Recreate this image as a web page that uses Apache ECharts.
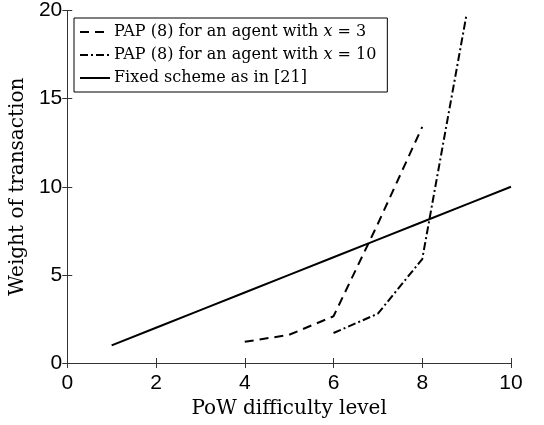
<!DOCTYPE html>
<html>
<head>
<meta charset="utf-8">
<script src="https://cdn.jsdelivr.net/npm/echarts@6/dist/echarts.min.js"></script>
<style>
  html, body { margin: 0; padding: 0; background: #fff; }
  #chart_container { width: 544px; height: 425px; }
</style>
</head>
<body>
<div id="chart_container"></div>
<script>
// data
const papX3_x = [4, 5, 6, 7, 8]
const papX3_y = [1.2, 1.6, 2.65, 7.9, 13.4]

const papX10_x = [6, 7, 8, 9]
const papX10_y = [1.7, 2.8, 5.9, 19.8]

const fixed_x = [1, 2, 3, 4, 5, 6, 7, 8, 9, 10]
const fixed_y = [1, 2, 3, 4, 5, 6, 7, 8, 9, 10]

const names = ["x3", "x10", "fixed"]
const labels = {
    x3: "PAP (8) for an agent with {i|x} = 3",
    x10: "PAP (8) for an agent with {i|x} = 10",
    fixed: "Fixed scheme as in [21]"
}

function pairs(xs, ys){
    return xs.map((x, i) => [x, ys[i]])
}

const axisColor = "#333333"
const serif = "'DejaVu Serif', 'Liberation Serif', serif"
const sans = "'Liberation Sans', Arial, sans-serif"

let chart = echarts.init(document.getElementById('chart_container'))

let option = {
    animation: false,
    backgroundColor: "#fff",
    grid: { left: 67, right: 33, top: 10, bottom: 62, containLabel: false },
    legend: {
        orient: "vertical",
        left: 74,
        top: 18,
        padding: [5, 11, 5, 5],
        itemGap: 5,
        itemWidth: 30,
        itemHeight: 10,
        backgroundColor: "#fff",
        borderColor: "#000",
        borderWidth: 1,
        data: names,
        itemStyle: { opacity: 0 },
        formatter: name => labels[name],
        textStyle: {
            fontFamily: serif,
            fontSize: 16,
            lineHeight: 18,
            color: "#000",
            padding: [0, 0, 0, -1],
            rich: {
                i: { fontFamily: serif, fontStyle: "italic", fontSize: 16, lineHeight: 18, color: "#000" }
            }
        }
    },
    xAxis: [
        {
            type: "value", min: 0, max: 10, interval: 2,
            name: "PoW difficulty level",
            nameLocation: "middle",
            nameGap: 25,
            nameTextStyle: { fontFamily: serif, fontSize: 20, color: "#000" },
            axisLine: { lineStyle: { color: axisColor, width: 1 } },
            axisTick: { inside: true, length: 5, lineStyle: { color: axisColor } },
            axisLabel: { fontFamily: sans, fontSize: 21, color: "#000", margin: 10 },
            splitLine: { show: false }
        },
        {
            type: "value", min: 0, max: 10, interval: 2, position: "top",
            axisLine: { lineStyle: { color: axisColor, width: 1 } },
            axisTick: { inside: true, length: 5, lineStyle: { color: axisColor } },
            axisLabel: { show: false },
            splitLine: { show: false }
        }
    ],
    yAxis: [
        {
            type: "value", min: 0, max: 20, interval: 5,
            name: "Weight of transaction",
            nameLocation: "middle",
            nameGap: 35,
            nameTextStyle: { fontFamily: serif, fontSize: 20, color: "#000" },
            axisLine: { show: true, lineStyle: { color: axisColor, width: 1 } },
            axisTick: { show: true, inside: true, length: 5, lineStyle: { color: axisColor } },
            axisLabel: { fontFamily: sans, fontSize: 21, color: "#000", margin: 5 },
            splitLine: { show: false }
        },
        {
            type: "value", min: 0, max: 20, interval: 5, position: "right",
            axisLine: { show: true, lineStyle: { color: axisColor, width: 1 } },
            axisTick: { show: true, inside: true, length: 5, lineStyle: { color: axisColor } },
            axisLabel: { show: false },
            splitLine: { show: false }
        }
    ],
    series: [
        {
            name: "x3", type: "line", symbol: "none",
            data: pairs(papX3_x, papX3_y),
            lineStyle: { color: "#000", width: 2, type: [9, 6] },
            itemStyle: { color: "#000" }
        },
        {
            name: "x10", type: "line", symbol: "none",
            data: pairs(papX10_x, papX10_y),
            lineStyle: { color: "#000", width: 2, type: [8, 3, 2, 3] },
            itemStyle: { color: "#000" }
        },
        {
            name: "fixed", type: "line", symbol: "none",
            data: pairs(fixed_x, fixed_y),
            lineStyle: { color: "#000", width: 2, type: "solid" },
            itemStyle: { color: "#000" }
        }
    ]
}

chart.setOption(option)
</script>
</body>
</html>
